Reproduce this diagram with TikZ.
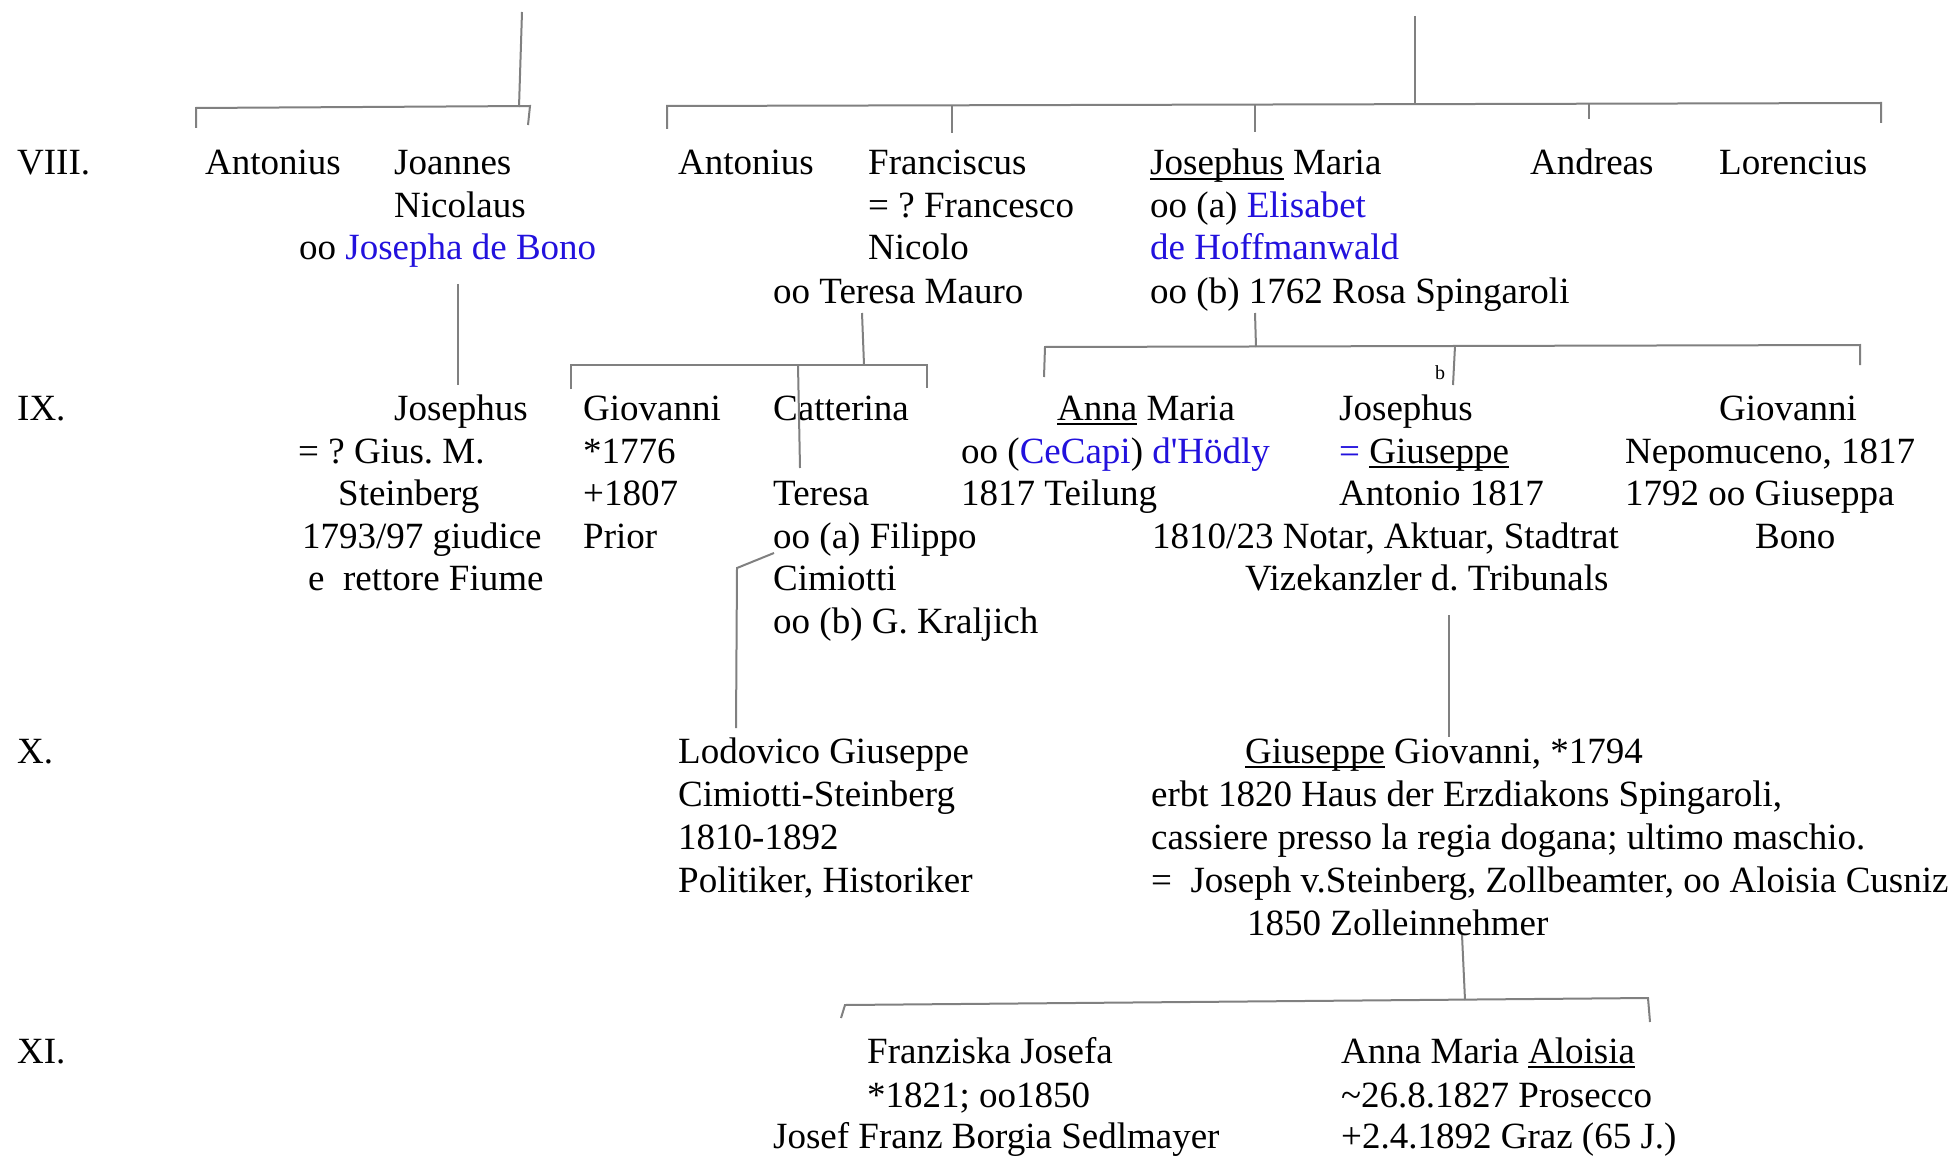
\documentclass[tikz,border=0pt]{standalone}
\usepackage{fontspec}
\setmainfont{Liberation Serif}
\definecolor{nameblue}{RGB}{34,17,221}
\definecolor{linegray}{RGB}{128,128,128}
\newlength\ulw
\newcommand\ulx[1]{\settowidth\ulw{#1}\rlap{\rule[-5pt]{\ulw}{2pt}}#1}
\newcommand\bl[1]{\textcolor{nameblue}{#1}}
\frenchspacing
\begin{document}
\begin{tikzpicture}[x=1pt,y=-1pt,
  txt/.style={anchor=base west, inner sep=0pt, font=\fontsize{37}{43}\selectfont\frenchspacing},
  smalltxt/.style={anchor=base west, inner sep=0pt, font=\fontsize{20}{24}\selectfont},
  link/.style={draw=linegray, line width=2pt, line join=miter}]
\useasboundingbox (0,0) rectangle (1959,1158);

% generation labels
\node[txt] (g8) at (17,175) {VIII.};
\node[txt] (g9) at (17,420) {IX.};
\node[txt] (g10) at (17,763) {X.};
\node[txt] (g11) at (17,1063) {XI.};

% ---- VIII ----
\node[txt] (aA) at (205,175) {Antonius};
\node[txt] (jnA) at (394,175) {Joannes};
\node[txt] (jnB) at (394,218) {Nicolaus};
\node[txt] (jnC) at (299,260) {oo \bl{Josepha de Bono}};
\node[txt] (aB) at (678,175) {Antonius};
\node[txt] (frA) at (868,175) {Franciscus};
\node[txt] (frB) at (868,218) {= ? Francesco};
\node[txt] (frC) at (868,260) {Nicolo};
\node[txt] (frD) at (773,303) {oo Teresa Mauro};
\node[txt] (jmA) at (1150,175) {\ulx{Josephus} Maria};
\node[txt] (jmB) at (1150,218) {oo (a) \bl{Elisabet}};
\node[txt] (jmC) at (1150,260) {\bl{de Hoffmanwald}};
\node[txt] (jmD) at (1150,303) {oo (b) 1762 Rosa Spingaroli};
\node[txt] (andr) at (1530,175) {Andreas};
\node[txt] (lore) at (1719,175) {Lorencius};

% ---- IX ----
\node[txt] (jsA) at (394,420) {Josephus};
\node[txt] (jsB) at (298,463) {= ? Gius. M.};
\node[txt] (jsC) at (338,505) {Steinberg};
\node[txt] (jsD) at (302,548) {1793/97 giudice};
\node[txt] (jsE) at (308,590) {e\ \ rettore Fiume};
\node[txt] (giA) at (583,420) {Giovanni};
\node[txt] (giB) at (583,463) {*1776};
\node[txt] (giC) at (583,505) {+1807};
\node[txt] (giD) at (583,548) {Prior};
\node[txt] (caA) at (773,420) {Catterina};
\node[txt] (caB) at (773,505) {Teresa};
\node[txt] (caC) at (773,548) {oo (a) Filippo};
\node[txt] (caD) at (773,590) {Cimiotti};
\node[txt] (caE) at (773,633) {oo (b) G. Kraljich};
\node[txt] (amA) at (1057,420) {\ulx{Anna} Maria};
\node[txt] (amB) at (961,463) {oo (\bl{CeCapi}) \bl{d\textquotesingle Hödly}};
\node[txt] (amC) at (961,505) {1817 Teilung};
\node[smalltxt] (bmark) at (1435,379) {b};
\node[txt] (jgA) at (1339,420) {Josephus};
\node[txt] (jgB) at (1339,463) {\bl{=} \ulx{Giuseppe}};
\node[txt] (jgC) at (1339,505) {Antonio 1817};
\node[txt] (jgD) at (1152,548) {1810/23 Notar, Aktuar, Stadtrat};
\node[txt] (jgE) at (1245,590) {Vizekanzler d. Tribunals};
\node[txt] (gnA) at (1719,420) {Giovanni};
\node[txt] (gnB) at (1625,463) {Nepomuceno, 1817};
\node[txt] (gnC) at (1625,505) {1792 oo Giuseppa};
\node[txt] (gnD) at (1755,548) {Bono};

% ---- X ----
\node[txt] (loA) at (678,763) {Lodovico Giuseppe};
\node[txt] (loB) at (678,806) {Cimiotti-Steinberg};
\node[txt] (loC) at (678,849) {1810-1892};
\node[txt] (loD) at (678,892) {Politiker, Historiker};
\node[txt] (ggA) at (1245,763) {\ulx{Giuseppe} Giovanni, *1794};
\node[txt] (ggB) at (1151,806) {erbt 1820 Haus der Erzdiakons Spingaroli,};
\node[txt] (ggC) at (1151,849) {cassiere presso la regia dogana; ultimo maschio.};
\node[txt] (ggD) at (1151,892) {=\ \ Joseph v.Steinberg, Zollbeamter, oo Aloisia Cusniz};
\node[txt] (ggE) at (1247,935) {1850 Zolleinnehmer};

% ---- XI ----
\node[txt] (fjA) at (867,1063) {Franziska Josefa};
\node[txt] (fjB) at (867,1107) {*1821; oo1850};
\node[txt] (fjC) at (773,1148) {Josef Franz Borgia Sedlmayer};
\node[txt] (alA) at (1341,1063) {Anna Maria \ulx{Aloisia}};
\node[txt] (alB) at (1341,1107) {\textasciitilde 26.8.1827 Prosecco};
\node[txt] (alC) at (1341,1148) {+2.4.1892 Graz (65 J.)};

% ---- connector points ----
\coordinate (p1top) at (522,12);
\coordinate (p1mid) at (519,107);
\coordinate (b1l) at (196,108);
\coordinate (b1lt) at (196,128);
\coordinate (b1r) at (530,106);
\coordinate (b1rt) at (528,125);

\coordinate (p2top) at (1415,16);
\coordinate (p2mid) at (1415,104);
\coordinate (b2l) at (667,106);
\coordinate (b2lt) at (667,129);
\coordinate (b2r) at (1881,103);
\coordinate (b2rt) at (1881,123);
\coordinate (t2a) at (952,106);
\coordinate (t2ab) at (952,133);
\coordinate (t2b) at (1255,105);
\coordinate (t2bb) at (1255,132);
\coordinate (t2c) at (1589,104);
\coordinate (t2cb) at (1589,119);

\coordinate (jnDown) at (458,284);
\coordinate (jsUp) at (458,385);

\coordinate (frDown) at (862,313);
\coordinate (frMid) at (864,365);
\coordinate (b3l) at (571,365);
\coordinate (b3lt) at (571,389);
\coordinate (b3r) at (927,365);
\coordinate (b3rt) at (927,388);
\coordinate (t3a) at (798,365);
\coordinate (t3ab) at (800,468);

\coordinate (jmDown) at (1255,313);
\coordinate (jmMid) at (1256,347);
\coordinate (b4l) at (1045,347);
\coordinate (b4lt) at (1044,377);
\coordinate (b4r) at (1860,345);
\coordinate (b4rt) at (1860,365);
\coordinate (t4a) at (1455,346);
\coordinate (t4ab) at (1453,385);

\coordinate (caOut) at (774,553);
\coordinate (caBend) at (737,568);
\coordinate (loUp) at (736,728);

\coordinate (jgDown) at (1449,615);
\coordinate (ggUp) at (1449,737);

\coordinate (ggDown) at (1462,935);
\coordinate (ggMid) at (1465,1000);
\coordinate (b5l) at (845,1005);
\coordinate (b5lt) at (841,1018);
\coordinate (b5r) at (1648,998);
\coordinate (b5rt) at (1650,1022);

% ---- connectors ----
\draw[link] (p1top) -- (p1mid);
\draw[link] (b1lt) -- (b1l) -- (b1r) -- (b1rt);
\draw[link] (p2top) -- (p2mid);
\draw[link] (b2lt) -- (b2l) -- (b2r) -- (b2rt);
\draw[link] (t2a) -- (t2ab);
\draw[link] (t2b) -- (t2bb);
\draw[link] (t2c) -- (t2cb);
\draw[link] (jnDown) -- (jsUp);
\draw[link] (frDown) -- (frMid);
\draw[link] (b3lt) -- (b3l) -- (b3r) -- (b3rt);
\draw[link] (t3a) -- (t3ab);
\draw[link] (jmDown) -- (jmMid);
\draw[link] (b4lt) -- (b4l) -- (b4r) -- (b4rt);
\draw[link] (t4a) -- (t4ab);
\draw[link] (caOut) -- (caBend) -- (loUp);
\draw[link] (jgDown) -- (ggUp);
\draw[link] (ggDown) -- (ggMid);
\draw[link] (b5lt) -- (b5l) -- (b5r) -- (b5rt);
\end{tikzpicture}
\end{document}
